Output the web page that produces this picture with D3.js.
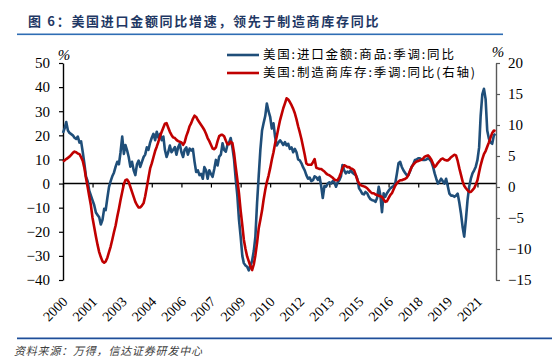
<!DOCTYPE html>
<html><head><meta charset="utf-8">
<script src="https://cdn.jsdelivr.net/npm/d3@7"></script>
<style>
html,body{margin:0;padding:0;background:#fff;}
svg{display:block;}
</style></head>
<body><svg id="c" width="552" height="358"></svg>
<script>
const titleText = "图 6：美国进口金额同比增速，领先于制造商库存同比";
const sourceText = "资料来源：万得，信达证券研发中心";
const seriesNames = ["美国:进口金额:商品:季调:同比", "美国:制造商库存:季调:同比(右轴)"];
const startMonth = "2000-01";
// 美国:进口金额:商品:季调:同比 (%), monthly from 2000-01
const importsYoY = [
  21, 23, 25.5, 22, 21, 20.5, 20, 19, 18.5, 19.5, 17, 17.5,
  13, 8, 3, 1, -3, -5, -7, -9, -12, -13, -14, -17,
  -15, -10.5, -11, -6, -1.5, 1, 3, 4.5, 7, 9, 8, 13,
  19.5, 12.3, 16, 13.8, 11, 7, 9, 5.5, 3.5, 8, 9.5, 6.9,
  9, 11, 12, 15, 14, 17, 19, 20.6, 18, 21.5, 19, 20.6,
  18, 19.5, 14, 11, 13, 15.8, 13, 14, 15.1, 12, 15, 16.5,
  13, 11, 14, 15, 12, 14.5, 13.7, 14.4, 9, 4.8, 5.5, 3.5,
  4, 2, 6.8, 5.5, 2, 5.5, 4, 2.8, 6, 9.8, 7.5, 11.2,
  12, 16.7, 14, 13.2, 16, 17, 18.9, 15, 10, 2, -5, -15,
  -22, -30, -33, -34, -34.5, -36, -34, -32, -28, -22, -8, 3,
  14, 22, 25, 28, 33.2, 30, 27.7, 22.8, 25, 19.3, 15.8, 17,
  17.9, 17, 16, 17.2, 15.8, 16.5, 14.4, 15, 13, 14.4, 13, 10,
  9.6, 8.4, 6.8, 5.5, 3.5, 2, 2.5, 1, 1.4, 3, 2.6, 1.5,
  2.8, -1.3, -6, -1, -1.3, 0, 0.5, 0, 1, 0.5, -1.3, 0.5,
  1.4, 3, 7.7, 5.5, 4.2, 5, 4.5, 5.5, 4.5, 4, 3.5, 2,
  -2, -3, -4.2, -4.5, -3.5, -4, -5.5, -6.5, -6.9, -7, -7.6, -6,
  -1.3, -5, -11.9, -4, -5.5, -4, -3, -2, -1.5, -1, 0, 4,
  8.4, 9, 7, 5.5, 4.5, 3.5, 3.5, 5, 7, 8, 9.8, 10,
  10.5, 10.5, 10, 9.8, 9.8, 10, 10.5, 10, 9, 7, 4.2, 2,
  0, 1, 2, 1, 0, 2, -1, -4.2, -5, -5, -5.5, -5,
  -4.2, -8, -12.3, -18, -22, -15, -7, -1.3, 2, 4.2, 5.5, 7,
  9.8, 15, 28, 37, 39.3, 35, 22, 18.6, 17, 16.5, 20, 20.6
];
// 美国:制造商库存:季调:同比 (%, right axis), monthly from 2000-01
const inventoryYoY = [
  4.1, 4.3, 4.5, 4.7, 4.9, 5.2, 5.5, 5.7, 5.6, 5.4, 5.3, 4.8,
  4.2, 3, 1.5, 0, -1.5, -3, -5, -6.5, -8, -9.3, -10.5, -11.3,
  -12, -12.2, -12, -11.4, -10.5, -9.6, -8.5, -7.3, -6.2, -4.8, -3.5, -2.1,
  -0.8, 0.5, 1.1, 1.2, 0.8, 0, -0.8, -1.6, -2.4, -2.9, -3.3, -3.3,
  -3, -2.6, -1.5, 0, 1.5, 3, 3.8, 4.8, 5.8, 6.5, 7.3, 8.2,
  8.9, 9.6, 10.2, 10.3, 9.6, 8.9, 8.4, 8, 7.9, 7.6, 7.4, 7.3,
  7.2, 6.8, 7.2, 8.2, 8.9, 9.8, 10.3, 11, 11.5, 11.3, 10.8, 10.4,
  10, 9.6, 9.2, 8.6, 7.9, 7.4, 6.8, 6.2, 6.1, 6.4, 7.4, 8.2,
  8.4, 8.4, 8.2, 7.5, 6.9, 6.9, 7.3, 7.1, 5.5, 3.3, 1.2, -1,
  -3.8, -6.2, -8.5, -10, -11.2, -12, -12.8, -13.4, -12.5, -11, -9, -6.7,
  -5.3, -3.8, -2.1, -0.5, 0.8, 1.8, 3, 4.4, 5.6, 7, 8.2, 9.5,
  10.8, 11.8, 12.7, 13.5, 14.3, 14.1, 13.7, 13.2, 12.6, 11.9, 10.9, 9.8,
  8.8, 7.7, 6.5, 5.2, 3.8, 3.6, 3.6, 3.6, 4, 4.5, 3.1, 3,
  2.9, 2.9, 2.7, 2.5, 2.2, 2, 1.9, 1.7, 1.5, 1.2, 1.1, 1.1,
  1.6, 2.3, 3, 3.5, 3.4, 3.2, 3.2, 3, 2.9, 2.7, 2, 1.1,
  0.6, 0.3, 0.2, 0.1, 0, -0.2, -0.5, -0.8, -1, -1, -1.2, -1.3,
  -1.4, -1.5, -1.6, -2, -2.4, -2.3, -1.8, -1.3, -1, -0.4, 0.2, 0.6,
  0.9, 1.1, 1.1, 1.2, 1.3, 1.5, 1.9, 2.6, 3.2, 3.6, 3.9, 4.1,
  4.2, 4.3, 4.4, 4.6, 4.9, 5, 5.1, 4.8, 4.4, 3.8, 3.2, 3.5,
  3.9, 4.2, 4.5, 4.6, 4.4, 4.3, 4.3, 4.5, 4.8, 5, 5.2, 5.1,
  4.2, 3, 2, 0.9, 0.2, -0.2, -0.5, -0.8, -0.8, -0.5, -0.2, 0.4,
  1.1, 2.4, 3.5, 4.5, 5.3, 5.8, 6.5, 7.2, 8, 8.7, 9.1, 9
];
const leftTicks = [50, 40, 30, 20, 10, 0, -10, -20, -30, -40];
const rightTicks = [20, 15, 10, 5, 0, -5, -10, -15];
const xTickDates = ["2000-01","2001-07","2003-01","2004-07","2006-01","2007-07","2009-01","2010-07","2012-01","2013-07","2015-01","2016-07","2018-01","2019-07","2021-01"];

const parse = d3.timeParse("%Y-%m");
const start = parse(startMonth);
const dates = importsYoY.map((_, i) => d3.timeMonth.offset(start, i));

const svg = d3.select("#c");
const L = 63, R = 496, T = 63, B = 280;
const x = d3.scaleTime().domain([dates[0], dates[dates.length - 1]]).range([L, 495.5]);
const yL = d3.scaleLinear().domain([-40, 50]).range([B, T]);
const yR = d3.scaleLinear().domain([-15, 20]).range([B, T]);
const serif = "'Liberation Serif','Times New Roman',serif";
const cjk = "'Noto Sans CJK SC','Noto Sans CJK JP',sans-serif";

// Title
svg.append("text").attr("x", 28).attr("y", 26)
  .attr("font-family", cjk).attr("font-weight", "bold").attr("font-size", 13)
  .attr("letter-spacing", 1.7).attr("fill", "#1f3864").text(titleText);
svg.append("rect").attr("x", 17).attr("y", 33.5).attr("width", 486).attr("height", 1.6).attr("fill", "#2e6db4");

// zero line with ticks
const xAxis = d3.axisBottom(x).tickValues(xTickDates.map(parse)).tickSize(4).tickSizeOuter(0).tickFormat("");
const gx = svg.append("g").attr("transform", `translate(0,${yL(0)})`).call(xAxis);
gx.select(".domain").attr("stroke", "#000").attr("stroke-width", 1.4).attr("d", `M${L},0H${R}`);
gx.selectAll(".tick line").attr("stroke", "#000").attr("stroke-width", 1.2);

// x labels at bottom
svg.append("g").selectAll("text").data(xTickDates).join("text")
  .attr("transform", d => `translate(${x(parse(d)) + 2},${299}) rotate(-45)`)
  .attr("text-anchor", "end").attr("dy", "0.35em")
  .attr("font-family", serif).attr("font-size", 14).attr("fill", "#000")
  .text(d => d.slice(0, 4));

// left axis
const gl = svg.append("g").attr("transform", `translate(${L},0)`)
  .call(d3.axisLeft(yL).tickValues(leftTicks).tickSize(4).tickSizeOuter(0).tickPadding(9));
gl.select(".domain").attr("stroke", "#000").attr("stroke-width", 1.4);
gl.selectAll(".tick line").attr("stroke", "#000").attr("stroke-width", 1.2);
gl.selectAll(".tick text").attr("font-family", serif).attr("font-size", 15).attr("fill", "#000");

// right axis
const gr = svg.append("g").attr("transform", `translate(${R},0)`)
  .call(d3.axisRight(yR).tickValues(rightTicks).tickSize(4).tickSizeOuter(0).tickPadding(8));
gr.select(".domain").attr("stroke", "#595959").attr("stroke-width", 1.4);
gr.selectAll(".tick line").attr("stroke", "#595959").attr("stroke-width", 1.2);
gr.selectAll(".tick text").attr("font-family", serif).attr("font-size", 15).attr("fill", "#000");

// % labels
svg.append("text").attr("x", 64).attr("y", 60).attr("text-anchor", "middle")
  .attr("font-family", serif).attr("font-style", "italic").attr("font-size", 15).text("%");
svg.append("text").attr("x", 498).attr("y", 57).attr("text-anchor", "middle")
  .attr("font-family", serif).attr("font-style", "italic").attr("font-size", 15).text("%");

// lines
const lineL = d3.line().x((d, i) => x(dates[i])).y(d => yL(d));
const lineR = d3.line().x((d, i) => x(dates[i])).y(d => yR(d));
svg.append("path").datum(importsYoY).attr("d", lineL).attr("fill", "none")
  .attr("stroke", "#1f4e79").attr("stroke-width", 2.6).attr("stroke-linejoin", "round");
svg.append("path").datum(inventoryYoY).attr("d", lineR).attr("fill", "none")
  .attr("stroke", "#c00000").attr("stroke-width", 2.6).attr("stroke-linejoin", "round");

// legend
const colors = ["#1f4e79", "#c00000"];
const lg = svg.append("g");
seriesNames.forEach((n, i) => {
  const yy = 55 + i * 18;
  lg.append("line").attr("x1", 227).attr("x2", 259).attr("y1", yy).attr("y2", yy)
    .attr("stroke", colors[i]).attr("stroke-width", 2.6);
  lg.append("text").attr("x", 263).attr("y", yy).attr("dy", "0.35em")
    .attr("font-family", cjk).attr("font-size", 12.5).attr("letter-spacing", 1.8)
    .attr("fill", "#000").text(n);
});

// bottom rule and source
svg.append("rect").attr("x", 17).attr("y", 337.5).attr("width", 535).attr("height", 1.5).attr("fill", "#1f4e99");
svg.append("rect").attr("x", 17).attr("y", 339).attr("width", 535).attr("height", 1).attr("fill", "#c5d5ea");
svg.append("text").attr("x", 14).attr("y", 355)
  .attr("font-family", cjk).attr("font-style", "italic").attr("font-size", 11)
  .attr("letter-spacing", 0.8).attr("fill", "#404040").text(sourceText);
</script>
</body></html>
